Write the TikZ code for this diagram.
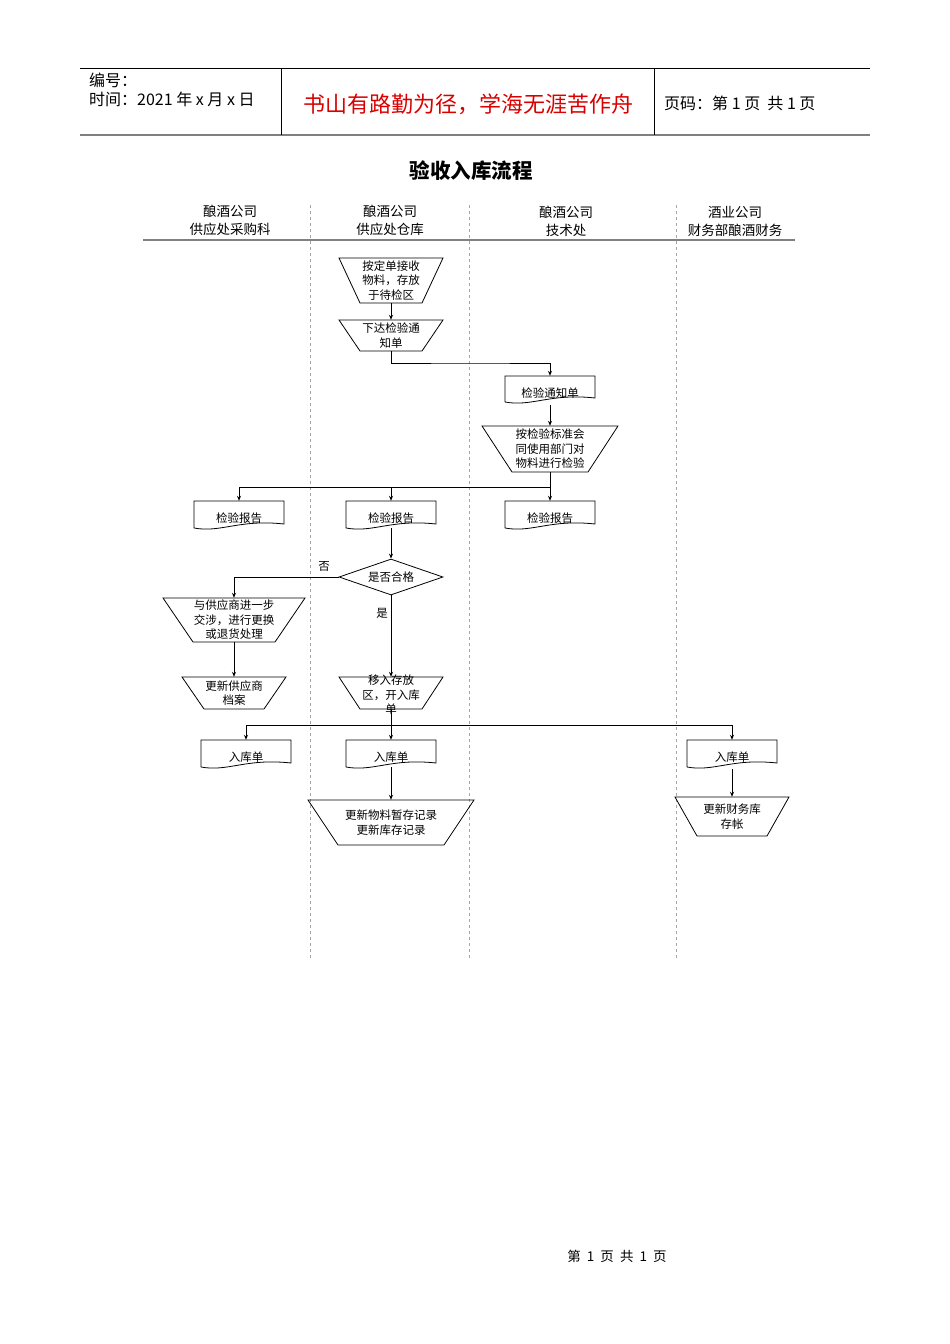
\documentclass[tikz,border=0pt]{standalone}
\usepackage{fontspec}
\setmainfont{Noto Sans CJK SC}
\usetikzlibrary{calc,arrows.meta,shapes.geometric}
\tikzset{
  lbl/.style={draw=none,inner sep=0pt,align=center,font=\fontsize{11.5}{14.5}\selectfont},
  shp/.style={draw=black,line width=0.8pt},
  arr/.style={line width=0.8pt,-{Stealth[length=5pt,width=4pt]}},
  ln/.style={line width=0.8pt},
  lane/.style={gray!70,dashed,line width=0.6pt},
  hdr/.style={font=\fontsize{13.5}{18}\selectfont,align=center,inner sep=0pt}
}
% name, cx, top, bottom, halftop, halfbottom, text
\newcommand\mytrap[7]{%
  \node[lbl,minimum width=#5*2pt,minimum height=(#4-#3)*1pt] (#1) at (#2,{(#3+#4)/2}) {#7};
  \draw[shp] ($(#2,#3)+(-#5,0)$) -- ($(#2,#3)+(#5,0)$) -- ($(#2,#4)+(#6,0)$) -- ($(#2,#4)+(-#6,0)$) -- cycle;}
% name, cx, top, bottom, half, text
\newcommand\mydoc[6]{%
  \node[lbl,minimum width=#5*2pt,minimum height=(#4-#3)*1pt] (#1) at (#2,{(#3+#4)/2}) {};
  \node[lbl] (#1t) at (#2,{(#3+#4)/2+4}) {#6};
  \draw[shp] ($(#2,#4)+(-#5,0)$) -- ($(#2,#3)+(-#5,0)$) -- ($(#2,#3)+(#5,0)$) -- ($(#2,#4)+(#5,-4)$)
    .. controls ($(#2,#4)+(0,-9)$) and ($(#2,#4)+(-#5*0.4,5)$) .. ($(#2,#4)+(-#5,0)$);}
\begin{document}
\begin{tikzpicture}[x=1pt,y=-1pt]
\useasboundingbox (0,0) rectangle (950,1344);
% header
\draw[line width=0.6pt] (80,68) -- (870,68);
\draw[gray,line width=1.2pt] (80,135) -- (870,135);
\draw[line width=0.6pt] (281,68) -- (281,135);
\draw[line width=0.6pt] (654,68) -- (654,135);
\node[anchor=west,inner sep=0pt,font=\fontsize{16}{17}\selectfont] (h1) at (89,80) {编号：};
\node[anchor=west,inner sep=0pt,font=\fontsize{16}{17}\selectfont] (h2) at (89,99) {时间：2021 年 x 月 x 日};
\node[inner sep=0pt,text=red!85!black,font=\fontsize{22}{24}\selectfont] (h3) at (468,104) {书山有路勤为径，学海无涯苦作舟};
\node[anchor=west,inner sep=0pt,font=\fontsize{16}{17}\selectfont] (h4) at (664,103) {页码：第 1 页\ \ 共 1 页};
\node[inner sep=0pt,font=\fontsize{20.5}{22}\selectfont\bfseries] (title) at (471,171) {验收入库流程};
% lanes
\node[hdr] (l1) at (230,220) {酿酒公司\\供应处采购科};
\node[hdr] (l2) at (390,220) {酿酒公司\\供应处仓库};
\node[hdr] (l3) at (566,221) {酿酒公司\\技术处};
\node[hdr] (l4) at (735,221) {酒业公司\\财务部酿酒财务};
\draw[gray,line width=1.4pt] (143,240) -- (795,240);
\foreach \x in {310,469,676} \draw[lane] (\x,205) -- (\x,958);
% nodes
\mytrap{n1}{391}{258}{303}{52}{31}{按定单接收\\物料，存放\\于待检区}
\mytrap{n2}{391}{320}{351}{52}{31}{下达检验通\\知单}
\mydoc{d1}{550}{376}{402}{45}{检验通知单}
\mytrap{n3}{550}{426}{472}{68}{38}{按检验标准会\\同使用部门对\\物料进行检验}
\mydoc{r1}{239}{501}{528}{45}{检验报告}
\mydoc{r2}{391}{501}{528}{45}{检验报告}
\mydoc{r3}{550}{501}{528}{45}{检验报告}
\node[lbl,draw,shape=diamond,aspect=2.9,minimum width=104pt,minimum height=36pt,line width=0.8pt,inner sep=0pt] (dq) at (391,577) {是否合格};
\mytrap{n4}{234}{598}{642}{71}{41}{与供应商进一步\\交涉，进行更换\\或退货处理}
\mytrap{n5}{234}{677}{709}{52}{30}{更新供应商\\档案}
\mytrap{n6}{391}{677}{709}{52}{31}{}
\node[lbl] (n6t) at (391,695) {移入存放\\区，开入库\\单};
\mydoc{e1}{246}{740}{767}{45}{入库单}
\mydoc{e2}{391}{740}{767}{45}{入库单}
\mydoc{e3}{732}{740}{767}{45}{入库单}
\mytrap{n7}{391}{800}{845}{83}{53}{更新物料暂存记录\\更新库存记录}
\mytrap{n8}{732}{797}{836}{57}{35}{更新财务库\\存帐}
% connectors
\draw[arr] (n1.south) -- (n2.north);
\draw[arr] (n2.south) |- (470,363) -| (d1.north);
\draw[arr] ([yshift=-3pt]d1.south) -- (n3.north);
\coordinate (j1) at (550,487);
\draw[ln] (n3.south) -- (j1);
\draw[arr] (j1) -| (r1.north);
\draw[arr] (r2.north |- j1) -- (r2.north);
\draw[arr] (j1) -- (r3.north);
\draw[arr] (r2.south) -- (dq.north);
\draw[arr] (dq.west) -| (n4.north);
\node[lbl] (no) at (324,566) {否};
\draw[arr] (n4.south) -- (n5.north);
\draw[arr] (dq.south) -- (n6.north);
\node[lbl] (yes) at (382,613) {是};
\coordinate (j2) at (391,725);
\draw[ln] (n6.south) -- (j2);
\draw[arr] (j2) -| (e1.north);
\draw[arr] (j2) -- (e2.north);
\draw[arr] (j2) -| (e3.north);
\draw[arr] (e2.south) -- (n7.north);
\draw[arr] ([yshift=-2pt]e3.south) -- (n8.north);
% footer
\node[inner sep=0pt,font=\fontsize{13.5}{14}\selectfont] (ft) at (617,1256) {第\ \ 1\ \ 页\ \ 共\ \ 1\ \ 页};
\end{tikzpicture}
\end{document}
